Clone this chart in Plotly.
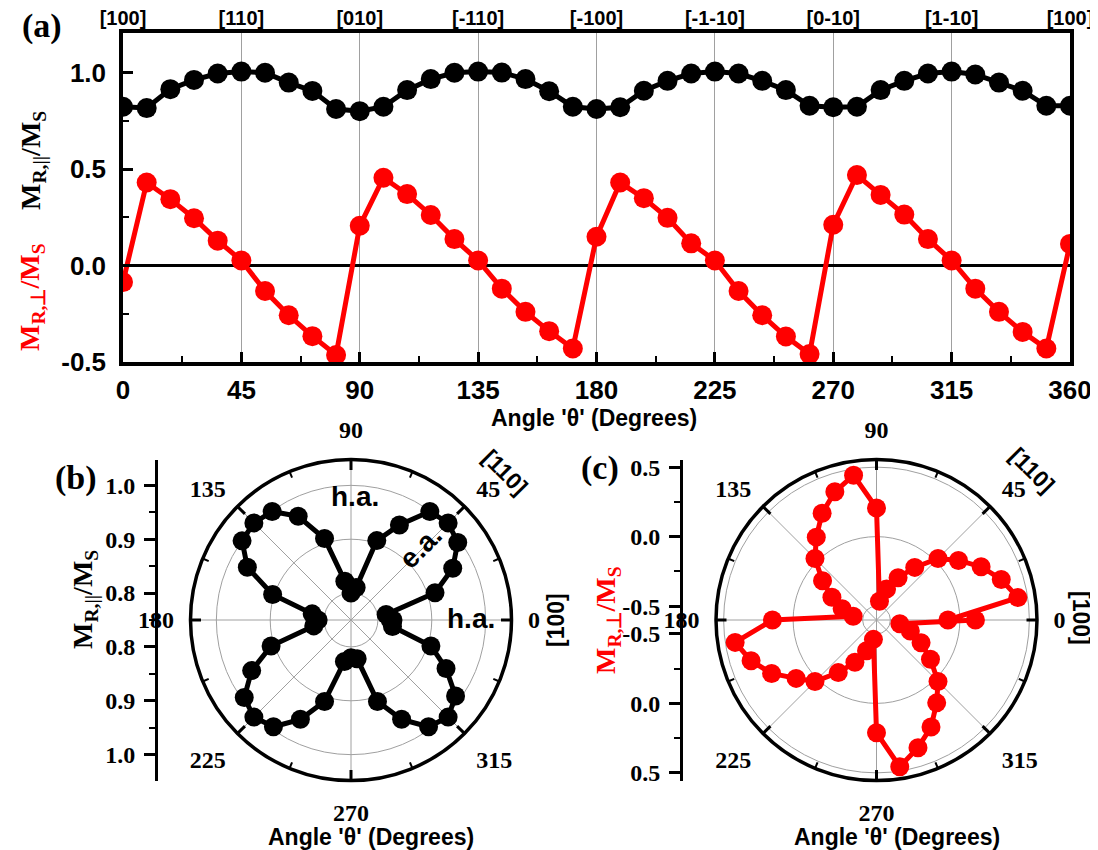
import plotly.graph_objects as go

# ---------------- data ----------------
angles = [0, 9, 18, 27, 36, 45, 54, 63, 72, 81, 90, 99, 108, 117, 126, 135, 144, 153, 162, 171,
          180, 189, 198, 207, 216, 225, 234, 243, 252, 261, 270, 279, 288, 297, 306, 315, 324, 333,
          342, 351, 360]
m_par = [0.823, 0.816, 0.914, 0.962, 0.995, 1.005, 0.999, 0.948, 0.905, 0.811, 0.800, 0.823, 0.909,
         0.966, 0.999, 1.005, 1.000, 0.966, 0.903, 0.823, 0.811, 0.820, 0.906, 0.957, 0.995, 1.005,
         0.995, 0.957, 0.909, 0.828, 0.820, 0.823, 0.909, 0.957, 0.995, 1.005, 0.990, 0.948, 0.906,
         0.828, 0.828]
m_perp = [-0.086, 0.430, 0.344, 0.245, 0.129, 0.026, -0.132, -0.258, -0.366, -0.464, 0.206, 0.455,
          0.370, 0.262, 0.137, 0.026, -0.120, -0.240, -0.340, -0.430, 0.149, 0.430, 0.349, 0.247,
          0.115, 0.026, -0.132, -0.258, -0.368, -0.459, 0.211, 0.469, 0.366, 0.264, 0.137, 0.026,
          -0.120, -0.240, -0.344, -0.430, 0.112]

x_ticks = [0, 45, 90, 135, 180, 225, 270, 315, 360]
dir_labels = ["[100]", "[110]", "[010]", "[-110]", "[-100]", "[-1-10]", "[0-10]", "[1-10]", "[100]"]
y_ticks = [-0.5, 0.0, 0.5, 1.0]
polar_ticks = [0, 45, 90, 135, 180, 225, 270, 315]
polar_minor = [22.5, 67.5, 112.5, 157.5, 202.5, 247.5, 292.5, 337.5]
par_rticks = [0.8, 0.9, 1.0]
par_range = [0.75, 1.048]
perp_rticks = [-0.5, 0.0, 0.5]
perp_range = [-0.6, 0.555]

# ---------------- helpers ----------------
# the page body has an 8px margin, so the figure is drawn 8px in from the window corner
OFF = 8
W, H = 1098 - OFF, 850 - OFF
def fx(p):
    return (p - OFF) / W
def fy(p):
    return 1 - (p - OFF) / H

SANS = "Liberation Sans"
SERIF = "Liberation Serif"
GRID = "#a0a0a0"
RED = "#ff0000"

fig = go.Figure()

# top panel traces
fig.add_trace(go.Scatter(x=angles, y=m_par, mode="lines+markers",
                         line=dict(color="black", width=5),
                         marker=dict(color="black", size=20), showlegend=False))
fig.add_trace(go.Scatter(x=angles, y=m_perp, mode="lines+markers",
                         line=dict(color=RED, width=5),
                         marker=dict(color=RED, size=20), showlegend=False))
fig.add_trace(go.Scatter(x=[None], y=[None], xaxis="x2", yaxis="y", showlegend=False))

# polar traces
fig.add_trace(go.Scatterpolar(r=m_par, theta=angles, mode="lines+markers", subplot="polar",
                              line=dict(color="black", width=5),
                              marker=dict(color="black", size=19), showlegend=False))
fig.add_trace(go.Scatterpolar(r=m_perp, theta=angles, mode="lines+markers", subplot="polar4",
                              line=dict(color=RED, width=5),
                              marker=dict(color=RED, size=19), showlegend=False))
for sp in ["polar2", "polar3", "polar5", "polar6"]:
    fig.add_trace(go.Scatterpolar(r=[], theta=[], subplot=sp, showlegend=False))

# side axes dummy traces
fig.add_trace(go.Scatter(x=[None], y=[None], xaxis="x3", yaxis="y3", showlegend=False))
fig.add_trace(go.Scatter(x=[None], y=[None], xaxis="x4", yaxis="y4", showlegend=False))

tick_sans = dict(family=SANS, size=26, color="black", weight="bold")
tick_serif = dict(family=SERIF, size=24, color="black", weight="bold")

layout = dict(
    width=W, height=H, margin=dict(l=0, r=0, t=0, b=0, pad=0),
    paper_bgcolor="white", plot_bgcolor="rgba(0,0,0,0)",
    xaxis=dict(domain=[fx(123), fx(1070)], range=[0, 360], tickvals=x_ticks,
               ticktext=[str(v) for v in x_ticks], ticks="inside", ticklen=10, tickwidth=2.5,
               tickcolor="black", showline=True, linecolor="black", linewidth=3.5, mirror=True,
               showgrid=True, gridcolor=GRID, gridwidth=1, zeroline=False, automargin=False,
               minor=dict(tickvals=[22.5 + 45 * k for k in range(8)], ticks="inside", ticklen=6,
                          tickwidth=2, tickcolor="black", showgrid=False),
               tickfont=tick_sans, ticklabelstandoff=2, anchor="y"),
    xaxis2=dict(overlaying="x", side="top", range=[0, 360], tickvals=x_ticks, ticktext=dir_labels,
                ticks="", showgrid=False, zeroline=False, showline=False, automargin=False,
                tickfont=dict(family=SANS, size=20, color="black", weight="bold"),
                ticklabelstandoff=3, anchor="y"),
    yaxis=dict(domain=[fy(362), fy(33)], range=[-0.5, 1.205], tickvals=y_ticks,
               ticktext=["-0.5", "0.0", "0.5", "1.0"], ticks="inside", ticklen=10, tickwidth=2.5,
               tickcolor="black", showline=True, linecolor="black", linewidth=3.5, mirror=True,
               showgrid=False, zeroline=True, zerolinecolor="black", zerolinewidth=2.5,
               automargin=False,
               minor=dict(tickvals=[-0.25, 0.25, 0.75], ticks="inside", ticklen=6, tickwidth=2,
                          tickcolor="black", showgrid=False),
               tickfont=tick_sans, ticklabelstandoff=8, anchor="x"),
    # side radial axis for (b)
    xaxis3=dict(domain=[fx(158), fx(159)], visible=False, anchor="y3", range=[0, 1], automargin=False),
    yaxis3=dict(domain=[fy(780.5), fy(459.5)], anchor="x3", automargin=False,
                range=[-(par_range[1] - par_range[0]), par_range[1] - par_range[0]],
                tickvals=[-(v - par_range[0]) for v in par_rticks] + [(v - par_range[0]) for v in par_rticks],
                ticktext=[f"{v:.1f}" for v in par_rticks] + [f"{v:.1f}" for v in par_rticks],
                ticks="outside", ticklen=11, tickwidth=2.5, tickcolor="black",
                showline=True, linecolor="black", linewidth=3, showgrid=False, zeroline=False,
                minor=dict(tickvals=[-0.3, -0.2, -0.1, 0.0, 0.1, 0.2, 0.3], ticks="outside",
                           ticklen=6, tickwidth=2, tickcolor="black", showgrid=False),
                tickfont=tick_serif, ticklabelstandoff=4),
    # side radial axis for (c)
    xaxis4=dict(domain=[fx(683), fx(684)], visible=False, anchor="y4", range=[0, 1], automargin=False),
    yaxis4=dict(domain=[fy(780.5), fy(459.5)], anchor="x4", automargin=False,
                range=[-(perp_range[1] - perp_range[0]), perp_range[1] - perp_range[0]],
                tickvals=[-(v - perp_range[0]) for v in perp_rticks] + [(v - perp_range[0]) for v in perp_rticks],
                ticktext=[f"{v:.1f}" for v in perp_rticks] + [f"{v:.1f}" for v in perp_rticks],
                ticks="outside", ticklen=11, tickwidth=2.5, tickcolor="black",
                showline=True, linecolor="black", linewidth=3, showgrid=False, zeroline=False,
                minor=dict(tickvals=[-0.85, -0.35, 0.35, 0.85], ticks="outside",
                           ticklen=6, tickwidth=2, tickcolor="black", showgrid=False),
                tickfont=tick_serif, ticklabelstandoff=4),
)

def polar_set(xd, rrange, rticks):
    base = dict(domain=dict(x=[fx(xd[0]), fx(xd[1])], y=[fy(780.5), fy(459.5)]),
                bgcolor="rgba(0,0,0,0)",
                radialaxis=dict(range=rrange, tickvals=rticks, showticklabels=False, ticks="",
                                showline=False, gridcolor=GRID, gridwidth=1),
                angularaxis=dict(tickvals=polar_ticks, ticktext=[str(v) for v in polar_ticks],
                                 ticks="outside", ticklen=10, tickcolor="rgba(0,0,0,0)",
                                 showline=True, linecolor="black", linewidth=3.5,
                                 gridcolor=GRID, gridwidth=1, tickfont=tick_serif))
    major = dict(domain=base["domain"], bgcolor="rgba(0,0,0,0)",
                 radialaxis=dict(range=rrange, visible=False),
                 angularaxis=dict(tickvals=polar_ticks, showticklabels=False, ticks="inside",
                                  ticklen=10, tickwidth=2.5, tickcolor="black", showline=False,
                                  showgrid=False))
    minor = dict(domain=base["domain"], bgcolor="rgba(0,0,0,0)",
                 radialaxis=dict(range=rrange, visible=False),
                 angularaxis=dict(tickvals=polar_minor, showticklabels=False, ticks="inside",
                                  ticklen=6, tickwidth=2, tickcolor="black", showline=False,
                                  showgrid=False))
    return base, major, minor

pb = polar_set([190.5, 511.5], par_range, par_rticks)
pc = polar_set([716, 1037], perp_range, perp_rticks)
layout["polar"], layout["polar2"], layout["polar3"] = pb
layout["polar4"], layout["polar5"], layout["polar6"] = pc

fig.update_layout(**layout)

def ann(text, x, y, size, family=SANS, color="black", angle=0):
    fig.add_annotation(text=text, x=fx(x), y=fy(y), xref="paper", yref="paper",
                       showarrow=False, xanchor="center", yanchor="middle", textangle=angle,
                       font=dict(family=family, size=size, color=color, weight="bold"))

par_title = "M<sub>R,||</sub>/M<sub>S</sub>"
perp_title = "M<sub>R,\u22a5</sub>/M<sub>S</sub>"
ann("(a)", 42, 26, 34, SERIF)
ann("(b)", 76, 478, 34, SERIF)
ann("(c)", 600, 468, 34, SERIF)
ann(par_title, 32, 161, 28, SERIF, "black", -90)
ann(perp_title, 32, 297, 28, SERIF, RED, -90)
ann("Angle '\u03b8' (Degrees)", 594, 418, 23)
ann("Angle '\u03b8' (Degrees)", 371, 837, 23)
ann("Angle '\u03b8' (Degrees)", 897, 837, 23)
ann(par_title, 84, 600, 28, SERIF, "black", -90)
ann(perp_title, 607, 620, 28, SERIF, RED, -90)
ann("[100]", 556, 620, 23, SANS, "black", -90)
ann("[100]", 1081, 618, 23, SANS, "black", 90)
ann("[110]", 505, 472, 23, SANS, "black", 45)
ann("[110]", 1032, 470, 23, SANS, "black", 45)
ann("h.a.", 355, 496, 28)
ann("h.a.", 471, 618, 28)
ann("e.a.", 420, 547, 28, SANS, "black", -45)

fig.write_html("out.html")
